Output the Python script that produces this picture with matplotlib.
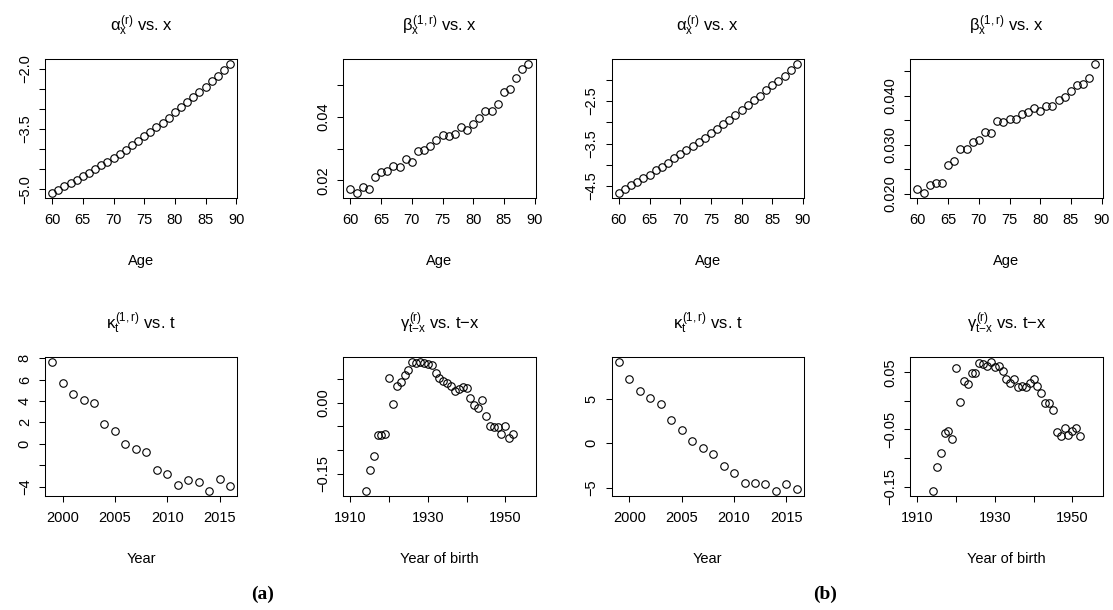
import numpy as np
import matplotlib
matplotlib.use('Agg')
import matplotlib.pyplot as plt

plt.rcParams.update({
    'font.family': ['Liberation Sans', 'DejaVu Sans'],
    'mathtext.fontset': 'custom',
    'mathtext.rm': 'Liberation Sans',
    'mathtext.it': 'Liberation Sans',
    'mathtext.bf': 'Liberation Sans:bold',
    'axes.linewidth': 0.75,
})

# --- data -------------------------------------------------------------------
ages = np.arange(60, 90)
years = np.arange(1999, 2017)
cohorts = np.arange(1910, 1957)

alpha_a = [-5.09, -5.01, -4.93, -4.84, -4.76, -4.67, -4.59, -4.50, -4.40, -4.31,
           -4.21, -4.11, -4.01, -3.90, -3.79, -3.68, -3.57, -3.46, -3.34, -3.22,
           -3.08, -2.96, -2.83, -2.70, -2.57, -2.44, -2.31, -2.17, -2.02, -1.88]
beta_a = [0.0172, 0.0160, 0.0177, 0.0173, 0.0210, 0.0226, 0.0230, 0.0245, 0.0241, 0.0267,
          0.0257, 0.0293, 0.0294, 0.0309, 0.0327, 0.0342, 0.0341, 0.0345, 0.0369, 0.0360,
          0.0378, 0.0398, 0.0420, 0.0418, 0.0440, 0.0480, 0.0487, 0.0523, 0.0553, 0.0567]
kappa_a = [7.63, 5.72, 4.65, 4.12, 3.84, 1.83, 1.24, -0.03, -0.47, -0.81,
           -2.45, -2.85, -3.84, -3.38, -3.60, -4.40, -3.29, -3.94]
nan = np.nan
gamma_a = [nan, nan, nan, nan,
           -0.1855, -0.1415, -0.1115, -0.0690, -0.0680, -0.0650, 0.0516, -0.0020, 0.0349, 0.0425,
           0.0586, 0.0683, 0.0844, 0.0837, 0.0851, 0.0830, 0.0802, 0.0788, 0.0620, 0.0516,
           0.0460, 0.0411, 0.0349, 0.0237, 0.0279, 0.0321, 0.0307, 0.0105, -0.0042, -0.0112,
           0.0056, -0.0272, -0.0495, -0.0502, -0.0523, -0.0655, -0.0495, -0.0746, -0.0669,
           nan, nan, nan, nan]

alpha_b = [-4.66, -4.57, -4.48, -4.40, -4.31, -4.23, -4.13, -4.04, -3.95, -3.84,
           -3.75, -3.66, -3.55, -3.46, -3.36, -3.26, -3.15, -3.05, -2.94, -2.83,
           -2.72, -2.60, -2.48, -2.38, -2.25, -2.13, -2.02, -1.90, -1.77, -1.63]
beta_b = [0.02095, 0.02014, 0.0218, 0.0222, 0.0222, 0.0258, 0.0267, 0.0292, 0.0292, 0.0305,
          0.0309, 0.0326, 0.0323, 0.0348, 0.0347, 0.0353, 0.0353, 0.0363, 0.0366, 0.0376,
          0.0370, 0.0379, 0.0379, 0.0391, 0.0398, 0.0409, 0.0422, 0.0424, 0.0437, 0.0465]
kappa_b = [9.13, 7.23, 5.89, 5.15, 4.44, 2.57, 1.52, 0.22, -0.52, -1.15,
           -2.60, -3.31, -4.42, -4.42, -4.61, -5.35, -4.57, -5.15]
gamma_b = [nan, nan, nan, nan,
           -0.1576, -0.1151, -0.0907, -0.0558, -0.0529, -0.0663, 0.0570, -0.0017, 0.0343, 0.0291,
           0.0483, 0.0488, 0.0663, 0.0651, 0.0616, 0.0680, 0.0599, 0.0610, 0.0529, 0.0384,
           0.0320, 0.0390, 0.0250, 0.0256, 0.0244, 0.0320, 0.0390, 0.0267, 0.0140, -0.0029,
           -0.0035, -0.0151, -0.0547, -0.0610, -0.0477, -0.0593, -0.0535, -0.0471, -0.0610,
           nan, nan, nan, nan]

T_ALPHA = r'$\alpha_x^{(r)}$ vs. x'
T_BETA = r'$\beta_x^{(1,r)}$ vs. x'
T_KAPPA = r'$\kappa_t^{(1,r)}$ vs. t'
T_GAMMA = r'$\gamma_{t{-}x}^{(r)}$ vs. t−x'

AGE_TICKS = [60, 65, 70, 75, 80, 85, 90]
YEAR_TICKS = [2000, 2005, 2010, 2015]
COH_TICKS = [1910, 1920, 1930, 1940, 1950]
COH_LABELS = ['1910', '', '1930', '', '1950']

# (x, y, title, xlabel, xticks, xticklabels, yticks, yticklabels)
panels = [
    (ages, alpha_a, T_ALPHA, 'Age', AGE_TICKS, None,
     [-2.0, -2.5, -3.0, -3.5, -4.0, -4.5, -5.0], ['−2.0', '', '', '−3.5', '', '', '−5.0']),
    (ages, beta_a, T_BETA, 'Age', AGE_TICKS, None,
     [0.02, 0.03, 0.04, 0.05], ['0.02', '', '0.04', '']),
    (ages, alpha_b, T_ALPHA, 'Age', AGE_TICKS, None,
     [-2.0, -2.5, -3.0, -3.5, -4.0, -4.5], ['', '−2.5', '', '−3.5', '', '−4.5']),
    (ages, beta_b, T_BETA, 'Age', AGE_TICKS, None,
     [0.020, 0.025, 0.030, 0.035, 0.040, 0.045], ['0.020', '', '0.030', '', '0.040', '']),
    (years, kappa_a, T_KAPPA, 'Year', YEAR_TICKS, None,
     [8, 6, 4, 2, 0, -2, -4], ['8', '6', '4', '2', '0', '', '−4']),
    (cohorts, gamma_a, T_GAMMA, 'Year of birth', COH_TICKS, COH_LABELS,
     [0.05, 0.0, -0.05, -0.10, -0.15], ['', '0.00', '', '', '−0.15']),
    (years, kappa_b, T_KAPPA, 'Year', YEAR_TICKS, None,
     [5, 0, -5], ['5', '0', '−5']),
    (cohorts, gamma_b, T_GAMMA, 'Year of birth', COH_TICKS, COH_LABELS,
     [0.05, 0.0, -0.05, -0.10, -0.15], ['0.05', '', '−0.05', '', '−0.15']),
]

W, H = 1113, 610
fig = plt.figure(figsize=(W / 100, H / 100), dpi=100)

lefts = [45, 343.3, 611.7, 910.3]
tops = [59, 357]
aw, ah = 192.3, 139


def rlim(v):
    # R-style 4% padding
    v = np.asarray(v, dtype=float)
    lo, hi = np.nanmin(v), np.nanmax(v)
    d = (hi - lo) * 0.04
    return lo - d, hi + d


for i, (x, y, title, xlab, xt, xtl, yt, ytl) in enumerate(panels):
    r, c = divmod(i, 4)
    ax = fig.add_axes([lefts[c] / W, 1 - (tops[r] + ah) / H, aw / W, ah / H])
    ax.plot(x, y, 'o', mfc='none', mec='black', ms=5.4, mew=0.8)
    ax.set_xlim(*rlim(x))
    ax.set_ylim(*rlim(y))
    ax.set_xticks(xt)
    if xtl is not None:
        ax.set_xticklabels(xtl)
    ax.set_yticks(yt)
    ax.set_yticklabels(ytl, rotation=90, va='center')
    ax.tick_params(direction='out', length=4.5, width=0.75, labelsize=10.5)
    ax.tick_params(axis='x', pad=6)
    ax.tick_params(axis='y', pad=5)
    ax.set_title(title, fontsize=12, pad=20)
    ax.set_xlabel(xlab, fontsize=10.5)
    ax.xaxis.set_label_coords(0.5, -0.40)

fig.text(262.5 / W, 1 - 594 / H, '(a)', ha='center', va='center',
         fontsize=14, fontweight='bold', family='Liberation Serif')
fig.text(825 / W, 1 - 594 / H, '(b)', ha='center', va='center',
         fontsize=14, fontweight='bold', family='Liberation Serif')

fig.savefig('out.png', dpi=100)
